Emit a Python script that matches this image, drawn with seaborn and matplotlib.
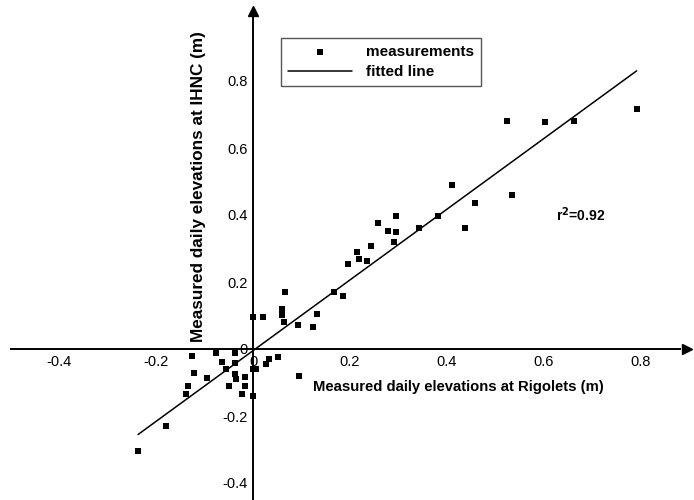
import numpy as np
import pandas as pd
import seaborn as sns
import matplotlib.pyplot as plt


# measured daily elevations (m)
rigolets = [0.000, 0.020, 0.059, 0.059, 0.063, 0.065, 0.092, 0.123, 0.131, 0.168,
            0.185, 0.195, 0.214, 0.219, 0.236, 0.243, 0.257, 0.278, 0.290, 0.295,
            0.295, 0.342, 0.381, 0.410, 0.437, 0.458, 0.534, 0.523, 0.603, 0.661,
            0.791,
            -0.126, -0.076, -0.038, -0.063, -0.038, -0.056, -0.001, 0.006, 0.032,
            0.027, 0.051, -0.122, -0.095, -0.038, -0.035, -0.016, 0.095, -0.134,
            -0.050, -0.016, -0.138, -0.023, 0.001, -0.180, -0.237]
ihnc = [0.096, 0.096, 0.118, 0.102, 0.081, 0.169, 0.072, 0.065, 0.104, 0.169,
        0.157, 0.253, 0.289, 0.268, 0.263, 0.307, 0.376, 0.352, 0.318, 0.348,
        0.396, 0.361, 0.396, 0.490, 0.361, 0.436, 0.459, 0.680, 0.677, 0.681,
        0.716,
        -0.022, -0.011, -0.011, -0.039, -0.043, -0.059, -0.059, -0.061, -0.029,
        -0.046, -0.025, -0.073, -0.088, -0.076, -0.089, -0.085, -0.082, -0.110,
        -0.109, -0.111, -0.135, -0.135, -0.140, -0.230, -0.305]

# fitted line
fit_slope = 1.056
fit_intercept = -0.005
r_squared = 0.92

x_ticks = [-0.4, -0.2, 0, 0.2, 0.4, 0.6, 0.8]
x_ticklabels = ['-0.4', '-0.2', '0', '0.2', '0.4', '0.6', '0.8']
y_ticks = [-0.4, -0.2, 0, 0.2, 0.4, 0.6, 0.8]
y_ticklabels = ['-0.4', '-0.2', '0', '0.2', '0.4', '0.6', '0.8']

df = pd.DataFrame({'rigolets': rigolets, 'ihnc': ihnc})
fit_x = np.array([min(rigolets), max(rigolets)])
fit_y = fit_intercept + fit_slope * fit_x

sns.set_style('white')
plt.rcParams['font.family'] = ['Liberation Sans', 'DejaVu Sans']
plt.rcParams['text.color'] = 'black'
plt.rcParams['xtick.color'] = 'black'
plt.rcParams['ytick.color'] = 'black'
plt.rcParams['axes.labelcolor'] = 'black'

fig = plt.figure(figsize=(6.94, 5.0), dpi=100)
ax = fig.add_axes([0, 0, 1, 1])
ax.patch.set_alpha(0)

sns.scatterplot(data=df, x='rigolets', y='ihnc', marker='s', color='black',
                s=22, linewidth=0, label='measurements', ax=ax, zorder=3)
sns.lineplot(x=fit_x, y=fit_y, color='black', linewidth=1.1,
             label='fitted line', ax=ax)

# axes through the origin
ax.set_xlim(-253 / 485, 441 / 485)
ax.set_ylim(-151 / 335, 349 / 335)
for side in ['top', 'right']:
    ax.spines[side].set_visible(False)
ax.spines['left'].set_position('zero')
ax.spines['bottom'].set_position('zero')
ax.spines['left'].set_bounds(-0.46, 1.0)
ax.spines['bottom'].set_bounds(-0.50, 0.88)
for side in ['left', 'bottom']:
    ax.spines[side].set_linewidth(1.4)
    ax.spines[side].set_color('black')
ax.plot(0.895, 0, '>', color='black', markersize=7, clip_on=False)
ax.plot(0, 1.01, '^', color='black', markersize=7, clip_on=False)

ax.set_xticks(x_ticks)
ax.set_xticklabels(x_ticklabels)
ax.set_yticks(y_ticks)
ax.set_yticklabels(y_ticklabels)
ax.tick_params(direction='in', length=7, width=1.4, labelsize=10.5, pad=4)
ax.set_xlabel('')
ax.set_ylabel('')

fig.text(458 / 694, 1 - 387 / 500, 'Measured daily elevations at Rigolets (m)',
         fontsize=10.7, fontweight='bold', ha='center', va='center')
fig.text(198 / 694, 1 - 187 / 500, 'Measured daily elevations at IHNC (m)',
         fontsize=12.3, fontweight='bold', rotation=90, ha='center', va='center')
ax.text(0.625, 0.4, r'r$^{\mathbf{2}}$=%.2f' % r_squared, fontsize=10,
        fontweight='bold', ha='left', va='center')

leg = ax.legend(loc='upper left', bbox_to_anchor=(281 / 694, 1 - 38 / 500),
                bbox_transform=fig.transFigure, fancybox=False, framealpha=1,
                edgecolor='#555555', handlelength=4.2, handletextpad=0.9,
                borderpad=0.45, borderaxespad=0, labelspacing=0.4,
                markerscale=0.8, prop={'weight': 'bold', 'size': 11})
leg.get_frame().set_linewidth(1.0)

fig.savefig('out.png', dpi=100)
